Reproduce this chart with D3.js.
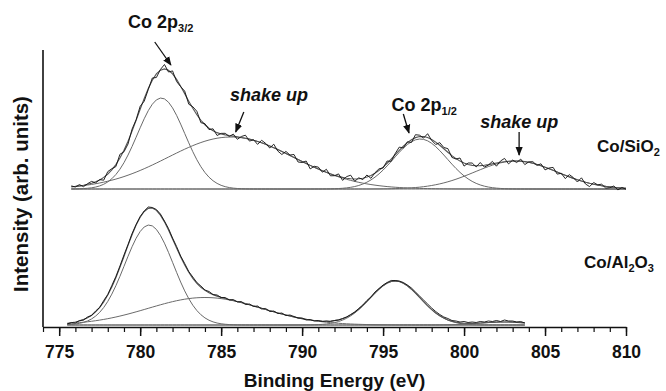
<!DOCTYPE html>
<html>
<head>
<meta charset="utf-8" />
<title>XPS Co 2p</title>
<style>
body { margin: 0; background: #fff; }
svg text { font-family: "Liberation Sans", Arial, Helvetica, sans-serif; font-weight: bold; fill: #111; }
</style>
</head>
<body>
<div id="chart"></div>
<script src="https://d3js.org/d3.v7.min.js"></script>
<script>

// binding energy grid (eV) of each spectrum
var energyStep = 0.25;
var siStart = 775.75;
var alStart = 775.5;

var siCounts = [3.1, 2.0, 4.4, 2.3, 5.3, 7.6, 6.1, 9.4, 8.8, 17.4, 20.3, 22.4, 34.7, 37.2, 45.0, 59.9,
  69.3, 82.7, 87.8, 99.4, 111.0, 111.5, 119.5, 124.5, 117.0, 118.1, 107.5, 102.3, 97.9, 84.8, 82.3, 77.7,
  66.3, 65.3, 59.4, 60.2, 53.5, 55.6, 55.7, 52.5, 54.9, 49.7, 52.5, 53.8, 47.9, 49.3, 44.6, 48.7,
  45.6, 41.0, 44.8, 37.9, 34.5, 37.6, 34.0, 34.5, 27.0, 26.5, 28.0, 20.1, 22.7, 21.9, 16.8, 19.7,
  13.2, 13.3, 15.1, 8.6, 12.4, 13.8, 7.7, 11.2, 9.4, 14.0, 10.7, 16.3, 20.2, 21.0, 28.0, 27.6,
  35.5, 41.9, 41.0, 47.2, 46.5, 54.3, 53.8, 50.9, 55.3, 48.6, 44.5, 46.4, 41.5, 40.4, 31.6, 30.0,
  31.0, 22.9, 26.0, 26.0, 22.1, 26.5, 21.9, 23.9, 27.6, 22.8, 28.0, 30.6, 25.1, 28.9, 26.5, 29.9,
  24.4, 27.2, 27.3, 23.6, 25.2, 19.1, 21.0, 21.6, 14.9, 15.7, 10.4, 14.4, 11.4, 7.0, 11.2, 5.0,
  2.4, 6.5, 4.2, 4.8, 0.9, 1.3, 3.0, -0.9, 1.5, -0.2];

var alCounts = [1.0, 2.5, 2.0, 4.5, 5.0, 8.0, 9.5, 14.0, 17.5, 24.5, 30.5, 39.5, 48.5, 59.0, 70.0, 80.5,
  91.5, 100.5, 108.5, 114.0, 118.0, 117.5, 115.5, 111.0, 104.0, 96.5, 87.0, 78.5, 69.0, 61.5, 53.5, 48.0,
  42.5, 39.0, 35.0, 33.5, 30.5, 30.0, 27.5, 27.5, 25.0, 25.5, 23.0, 23.5, 20.5, 21.0, 18.5, 19.0,
  16.0, 16.5, 13.5, 14.0, 11.5, 12.0, 9.5, 10.0, 8.5, 7.0, 7.0, 5.0, 5.5, 4.0, 4.5, 3.5,
  4.0, 3.5, 4.5, 5.0, 6.5, 8.0, 10.5, 13.0, 16.5, 20.0, 24.5, 28.0, 33.0, 36.5, 40.0, 42.5,
  44.5, 44.5, 44.0, 42.5, 40.0, 37.0, 33.0, 29.0, 25.0, 21.0, 17.0, 13.5, 10.5, 8.0, 6.5, 4.5,
  4.0, 3.0, 3.5, 2.5, 3.0, 2.5, 3.5, 3.0, 4.0, 3.5, 4.5, 3.5, 5.0, 4.0, 4.0, 3.0,
  3.5, 2.0];

// fitted components: Co 2p3/2, shake up, Co 2p1/2, shake up
var siCenter = [781.3, 785.6, 797.3, 803.2];
var siHeight = [91, 52, 50, 28];
var siSigma  = [1.46, 3.9, 1.65, 2.55];

var alCenter = [780.55, 784.0, 795.75, 802.5];
var alHeight = [100, 27.5, 44, 3];
var alSigma  = [1.5, 3.5, 1.55, 1.5];

var majorTicks = [775, 780, 785, 790, 795, 800, 805, 810];
var minorTicks = d3.range(774, 811, 1);

var W = 666, H = 391;
var plotL = 43, plotR = 626, plotT = 50, plotB = 327;

var svg = d3.select("#chart").append("svg")
  .attr("width", W)
  .attr("height", H);

var x = d3.scaleLinear().domain([774, 810]).range([plotL, plotR]);
var y = d3.scaleLinear().domain([0, plotB - plotT]).range([plotB, plotT]);

function gauss(e, c, h, s) {
  return h * Math.exp(-(e - c) * (e - c) / (2 * s * s));
}

function drawSpectrum(start, counts, centers, heights, sigmas, offset) {
  var pts = counts.map(function(v, i) { return { e: start + i * energyStep, v: v }; });
  var line = d3.line()
    .x(function(d) { return x(d.e); })
    .y(function(d) { return y(d.v + offset); });

  var g = svg.append("g");

  centers.forEach(function(c, k) {
    var comp = pts.map(function(p) { return { e: p.e, v: gauss(p.e, c, heights[k], sigmas[k]) }; });
    g.append("path")
      .attr("d", line(comp))
      .attr("fill", "none")
      .attr("stroke", "#6a6a6a")
      .attr("stroke-width", 1);
  });

  var env = pts.map(function(p) {
    var s = 0;
    centers.forEach(function(c, k) { s += gauss(p.e, c, heights[k], sigmas[k]); });
    return { e: p.e, v: s };
  });
  g.append("path")
    .attr("d", line(env))
    .attr("fill", "none")
    .attr("stroke", "#555")
    .attr("stroke-width", 1.1);

  g.append("path")
    .attr("d", line(pts))
    .attr("fill", "none")
    .attr("stroke", "#111")
    .attr("stroke-width", 0.9);
}

drawSpectrum(siStart, siCounts, siCenter, siHeight, siSigma, 138);
drawSpectrum(alStart, alCounts, alCenter, alHeight, alSigma, 2);

// axes
var minor = svg.append("g")
  .attr("transform", "translate(0," + plotB + ")")
  .call(d3.axisBottom(x).tickValues(minorTicks).tickSize(5).tickFormat(""));
minor.select(".domain").remove();
minor.selectAll("line").attr("stroke", "#111").attr("stroke-width", 1.2);

var major = svg.append("g")
  .attr("transform", "translate(0," + plotB + ")")
  .call(d3.axisBottom(x).tickValues(majorTicks).tickSize(9).tickSizeOuter(0).tickPadding(10));
major.select(".domain").attr("stroke", "#111").attr("stroke-width", 1.6);
major.selectAll("line").attr("stroke", "#111").attr("stroke-width", 1.5);
major.selectAll("text")
  .style("font-size", "17.5px")
  .style("font-weight", "bold")
  .style("font-family", "'Liberation Sans', Arial, sans-serif")
  .attr("fill", "#111");

svg.append("line")
  .attr("x1", plotL).attr("x2", plotL)
  .attr("y1", plotT).attr("y2", plotB)
  .attr("stroke", "#111").attr("stroke-width", 1.6);

svg.append("text")
  .attr("x", (plotL + plotR) / 2)
  .attr("y", 387)
  .attr("text-anchor", "middle")
  .style("font-size", "19px")
  .text("Binding Energy (eV)");

svg.append("text")
  .attr("transform", "translate(28,194) rotate(-90)")
  .attr("text-anchor", "middle")
  .style("font-size", "20.5px")
  .text("Intensity (arb. units)");

// annotations
svg.append("defs").append("marker")
  .attr("id", "head")
  .attr("viewBox", "0 0 10 10")
  .attr("refX", 9).attr("refY", 5)
  .attr("markerWidth", 7).attr("markerHeight", 7)
  .attr("orient", "auto")
  .append("path")
  .attr("d", "M0,1 L10,5 L0,9 Z")
  .attr("fill", "#111");

function label(px, py, main, sub, italic) {
  var t = svg.append("text").attr("x", px).attr("y", py).style("font-size", "18px");
  if (italic) t.style("font-style", "italic");
  t.append("tspan").text(main);
  if (sub) t.append("tspan").attr("dy", 4).style("font-size", "11px").text(sub);
}

function arrow(x1, y1, x2, y2) {
  svg.append("line")
    .attr("x1", x1).attr("y1", y1).attr("x2", x2).attr("y2", y2)
    .attr("stroke", "#111").attr("stroke-width", 1.3)
    .attr("marker-end", "url(#head)");
}

label(x(779.25), 28, "Co 2p", "3/2");
arrow(x(780.9), 42, x(781.9), 65);
label(x(785.55), 101, "shake up", null, true);
arrow(x(786.4), 112, x(785.9), 132);
label(x(797.5) - 32, 111, "Co 2p", "1/2");
arrow(x(796.25), 114, x(796.6), 133);
label(x(801.0), 128, "shake up", null, true);
arrow(x(803.4), 132, x(803.4), 155);

var t1 = svg.append("text").attr("x", 597).attr("y", 152).style("font-size", "17px");
t1.append("tspan").text("Co/SiO");
t1.append("tspan").attr("dy", 4).style("font-size", "11px").text("2");

var t2 = svg.append("text").attr("x", 584).attr("y", 268).style("font-size", "17px");
t2.append("tspan").text("Co/Al");
t2.append("tspan").attr("dy", 4).style("font-size", "11px").text("2");
t2.append("tspan").attr("dy", -4).text("O");
t2.append("tspan").attr("dy", 4).style("font-size", "11px").text("3");

</script>
</body>
</html>
